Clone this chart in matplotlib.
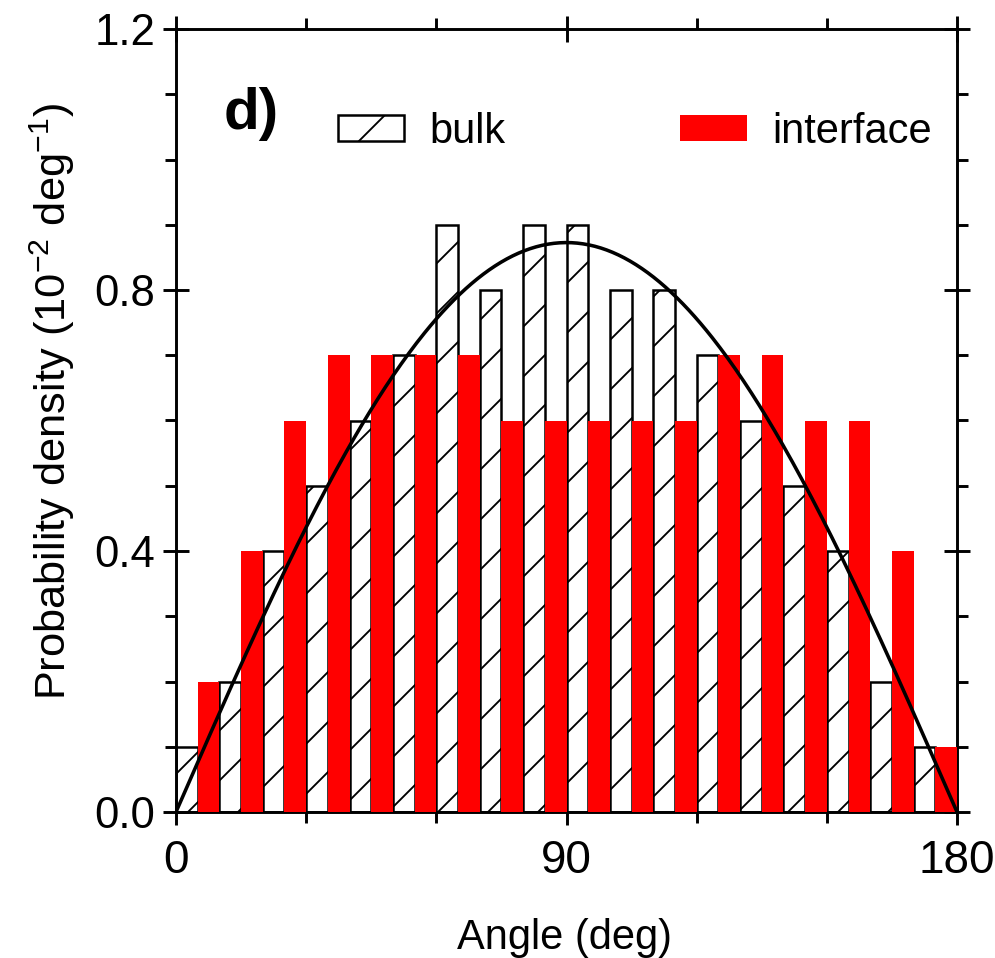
import numpy as np
import matplotlib
matplotlib.use("Agg")
import matplotlib.pyplot as plt
from matplotlib.patches import Patch
from matplotlib.ticker import MultipleLocator


# bin left edges (deg), each bin 10 deg wide: bulk in first half, interface in second half
bin_starts = [0, 10, 20, 30, 40, 50, 60, 70, 80, 90, 100, 110, 120, 130, 140, 150, 160, 170]
bulk = [0.1, 0.2, 0.4, 0.5, 0.6, 0.7, 0.9, 0.8, 0.9, 0.9, 0.8, 0.8, 0.7, 0.6, 0.5, 0.4, 0.2, 0.1]
interface = [0.2, 0.4, 0.6, 0.7, 0.7, 0.7, 0.7, 0.6, 0.6, 0.6, 0.6, 0.6, 0.7, 0.7, 0.6, 0.6, 0.4, 0.1]
bar_width = 5

x_ticks = [0, 90, 180]
y_ticks = [0.0, 0.4, 0.8, 1.2]

DPI = 150
plt.rcParams["font.family"] = ["Liberation Sans", "DejaVu Sans"]
plt.rcParams["mathtext.default"] = "regular"
plt.rcParams["hatch.linewidth"] = 0.9
plt.rcParams["hatch.color"] = "black"

fig = plt.figure(figsize=(995 / DPI, 958 / DPI), dpi=DPI)
ax = fig.add_axes([176 / 995, 146 / 958, 781 / 995, 783 / 958])

starts = np.array(bin_starts, dtype=float)
ax.bar(starts, bulk, width=bar_width, align="edge", facecolor="white",
       edgecolor="black", linewidth=1.2, hatch="/", zorder=2, label="bulk")
ax.bar(starts + bar_width, interface, width=bar_width, align="edge",
       color="#ff0000", linewidth=0, zorder=3, label="interface")

# isotropic reference: sin(theta)/2 per rad -> per degree, in units of 1e-2
theta = np.linspace(0, 180, 400)
ax.plot(theta, np.sin(np.radians(theta)) * np.pi / 360 * 100, color="black",
        linewidth=1.7, zorder=4)

ax.set_xlim(0, 180)
ax.set_ylim(0, 1.2)
ax.set_xticks(x_ticks)
ax.set_yticks(y_ticks)
ax.set_yticklabels([f"{v:.1f}" for v in y_ticks])
ax.xaxis.set_minor_locator(MultipleLocator(30))
ax.yaxis.set_minor_locator(MultipleLocator(0.1))

for s in ax.spines.values():
    s.set_linewidth(1.4)
ax.tick_params(which="major", direction="inout", length=12.5, width=1.4,
               top=True, right=True)
ax.tick_params(which="minor", direction="out", length=5.5, width=1.4,
               top=True, right=True)
ax.tick_params(axis="x", which="major", labelsize=22, pad=6.5)
ax.tick_params(axis="y", which="major", labelsize=21, pad=3.8)

ax.set_xlabel("Angle (deg)", fontsize=20)
ax.xaxis.set_label_coords(0.497, -0.136)
ax.xaxis.label.set_va("top")
ax.set_ylabel(r"Probability density (10$^{-2}$ deg$^{-1}$)", fontsize=20.8)
ax.yaxis.set_label_coords(-0.127, 0.524)

ax.text(0.061, 0.872, "d)", transform=ax.transAxes, fontsize=28,
        fontweight="bold", va="baseline", ha="left")

handles = [
    Patch(facecolor="white", edgecolor="black", linewidth=1.2, hatch="/", label="bulk"),
    Patch(facecolor="#ff0000", linewidth=0, label="interface"),
]
ax.legend(handles=handles, ncol=2, frameon=False, fontsize=20,
          loc="center left", bbox_to_anchor=(0.207, 0.869),
          borderpad=0, borderaxespad=0, handlelength=1.6, handleheight=0.6,
          handletextpad=0.6, columnspacing=4.2)

fig.savefig("out.png", dpi=DPI)
